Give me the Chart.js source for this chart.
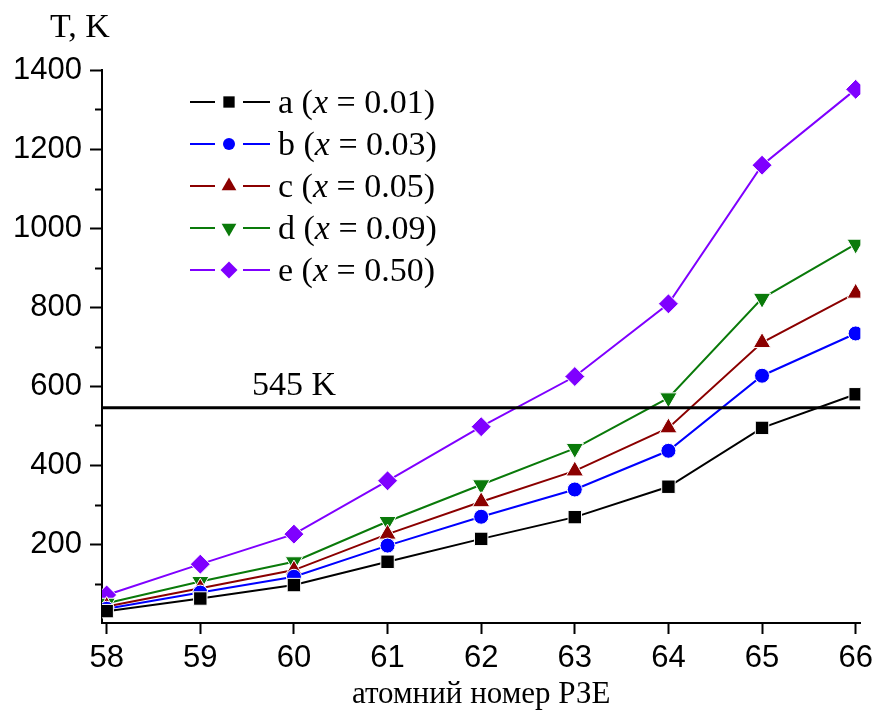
<!DOCTYPE html>
<html>
<head>
<meta charset="utf-8">
<script src="https://cdn.jsdelivr.net/npm/chart.js@4"></script>
<style>
  html, body { margin: 0; padding: 0; background: #fff; }
  #wrap { width: 879px; height: 713px; }
</style>
</head>
<body>
<div id="wrap"><canvas id="tChart" width="879" height="713"></canvas></div>
<script>
// atomic number of the rare earth element
const z = [58, 59, 60, 61, 62, 63, 64, 65, 66];
const seriesA = [30, 62, 96, 155, 213, 268, 345, 494, 579];
const seriesB = [36, 77, 117, 196, 269, 338, 436, 626, 733];
const seriesC = [42, 88, 134, 225, 307, 385, 494, 710, 835];
const seriesD = [50, 105, 155, 257, 350, 442, 570, 822, 959];
const seriesE = [71, 149, 225, 360, 497, 624, 808, 1159, 1351];
const labels = ['a', 'b', 'c', 'd', 'e'];
const xValues = ['0.01', '0.03', '0.05', '0.09', '0.50'];
const refTemp = 545;

const colors = ['#000000', '#0000ff', '#8b0000', '#0a7a0a', '#7f00ff'];
const shapes = ['rect', 'circle', 'triangle', 'triangle', 'rectRot'];
const rots = [0, 0, 0, 180, 0];
const radii = [9.5, 7.5, 10, 10, 10];
const allSeries = [seriesA, seriesB, seriesC, seriesD, seriesE];

const serif = '"Liberation Serif", "DejaVu Serif", serif';
const sans = '"Liberation Sans", Arial, sans-serif';

const datasets = allSeries.map((vals, i) => ({
    label: labels[i],
    data: z.map((v, k) => ({x: v, y: vals[k]})),
    borderColor: colors[i],
    backgroundColor: colors[i],
    borderWidth: 2,
    pointStyle: shapes[i],
    rotation: rots[i],
    pointRadius: radii[i],
    pointHoverRadius: radii[i],
    pointBorderColor: '#ffffff',
    pointBorderWidth: 1,
    tension: 0
}));

// 545 K level
datasets.unshift({
    label: '545 K',
    data: [{x: 57.95, y: refTemp}, {x: 66.05, y: refTemp}],
    borderColor: '#000',
    borderWidth: 3,
    pointRadius: 0,
    tension: 0
});

const extras = {
    id: 'extras',
    afterDraw(chart) {
        const ctx = chart.ctx;
        const ys = chart.scales.y;
        const area = chart.chartArea;
        ctx.save();
        // minor ticks on y
        ctx.strokeStyle = '#000';
        ctx.lineWidth = 2;
        for (let v = 100; v < 1400; v += 200) {
            const py = Math.round(ys.getPixelForValue(v)) + 0.5;
            ctx.beginPath();
            ctx.moveTo(area.left - 7, py);
            ctx.lineTo(area.left, py);
            ctx.stroke();
        }
        ctx.fillStyle = '#000';
        ctx.textBaseline = 'alphabetic';
        ctx.font = '34px ' + serif;
        ctx.fillText('T, K', 50, 37);
        ctx.font = '34px ' + serif;
        ctx.fillText('545 K', 252, ys.getPixelForValue(refTemp) - 13);

        // legend
        const x0 = 190, y0 = 102, dy = 42;
        for (let i = 0; i < labels.length; i++) {
            const y = y0 + i * dy;
            ctx.strokeStyle = colors[i];
            ctx.lineWidth = 2;
            ctx.beginPath();
            ctx.moveTo(x0, y); ctx.lineTo(x0 + 25, y);
            ctx.moveTo(x0 + 53, y); ctx.lineTo(x0 + 80, y);
            ctx.stroke();
            ctx.fillStyle = colors[i];
            ctx.strokeStyle = colors[i];
            Chart.helpers.drawPoint(ctx, {
                pointStyle: shapes[i], rotation: rots[i],
                radius: radii[i] - 1.5, borderWidth: 0
            }, x0 + 39, y);
            ctx.fillStyle = '#000';
            let tx = x0 + 88;
            const ty = y + 11;
            const parts = [[labels[i] + ' (', false], ['x', true], [' = ' + xValues[i] + ')', false]];
            parts.forEach(([s, it]) => {
                ctx.font = (it ? 'italic ' : '') + '34px ' + serif;
                ctx.fillText(s, tx, ty);
                tx += ctx.measureText(s).width;
            });
        }
        ctx.restore();
    }
};

new Chart(document.getElementById('tChart'), {
    type: 'line',
    data: { datasets },
    options: {
        responsive: false,
        animation: false,
        layout: { padding: { top: 70, right: 16, bottom: 0, left: 0 } },
        plugins: { legend: { display: false }, tooltip: { enabled: false } },
        scales: {
            x: {
                type: 'linear',
                min: 57.95,
                max: 66.05,
                afterBuildTicks(scale) {
                    scale.ticks = z.map(v => ({value: v}));
                },
                afterFit(scale) { scale.height = 90; },
                border: { display: true, color: '#000', width: 2 },
                grid: { drawOnChartArea: false, tickLength: 11, tickColor: '#000', tickWidth: 2 },
                ticks: { color: '#000', font: { family: sans, size: 31 }, padding: 6, maxRotation: 0 },
                title: { display: true, text: 'атомний номер РЗЕ', color: '#000',
                         font: { family: serif, size: 31 }, padding: { top: 0, bottom: 0 } }
            },
            y: {
                min: 0,
                max: 1400,
                ticks: {
                    stepSize: 200, color: '#000', font: { family: sans, size: 31 }, padding: 8,
                    callback: v => v === 0 ? '' : v
                },
                afterFit(scale) { scale.width = 102; },
                border: { display: true, color: '#000', width: 2 },
                grid: {
                    drawOnChartArea: false, tickLength: 12, tickWidth: 2,
                    tickColor: c => c.tick && c.tick.value === 0 ? 'rgba(0,0,0,0)' : '#000'
                }
            }
        }
    },
    plugins: [extras]
});
</script>
</body>
</html>
